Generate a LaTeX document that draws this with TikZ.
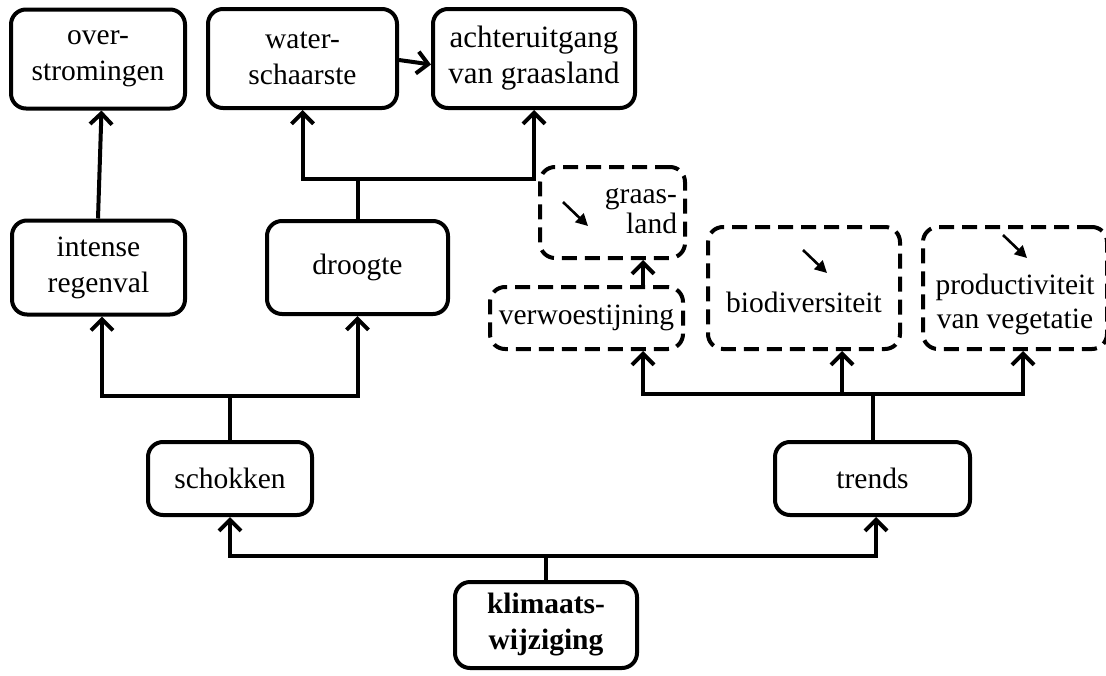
\documentclass[tikz,border=0pt]{standalone}
\usepackage{fontspec}
\setmainfont{Liberation Serif}
\usetikzlibrary{arrows.meta,calc}
\begin{document}
\begin{tikzpicture}[x=1pt,y=-1pt,
  box/.style={draw, line width=4pt, rounded corners=15pt, align=center,
    inner sep=0pt, font=\fontsize{29.5}{36}\selectfont},
  dbox/.style={box, dash pattern=on 15pt off 8pt},
  link/.style={line width=4pt},
  arr/.style={link, -{Straight Barb[length=11pt,width=22pt]}},
  trend/.style={line width=2.6pt, -{Triangle[length=12pt,width=12pt]}},
]
\useasboundingbox (0,0) rectangle (1106,675);

% solid boxes
\node[box, minimum width=174pt, minimum height=99pt] (over) at (98,59) {over-\\stromingen};
\node[box, minimum width=189pt, minimum height=99pt] (water) at (302.5,58.5) {water-\\schaarste};
\node[box, minimum width=202pt, minimum height=99pt, font=\fontsize{31}{36}\selectfont]
  (achter) at (534,58.5) {achteruitgang\\van graasland};
\node[box, minimum width=173pt, minimum height=94pt] (intense) at (98.5,267.5) {intense\\regenval};
\node[box, minimum width=181pt, minimum height=93pt] (droogte) at (357.5,267.5) {droogte};
\node[box, minimum width=164pt, minimum height=73pt] (schokken) at (230,478.5) {schokken};
\node[box, minimum width=195pt, minimum height=73pt] (trends) at (872.5,478.5) {trends};
\node[box, minimum width=182pt, minimum height=86pt] (klimaat) at (546,625) {\textbf{klimaats-}\\\textbf{wijziging}};

% dashed boxes
\node[dbox, minimum width=145pt, minimum height=91pt, text width=129pt, align=right,
  font=\fontsize{29.5}{30}\selectfont] (graas) at (612.5,212.5)
  {\raisebox{9.5pt}[0pt][0pt]{\begin{tabular}[t]{@{}r@{}}graas-\\land\end{tabular}}};
\node[dbox, minimum width=193pt, minimum height=62pt] (verw) at (586.5,318) {verwoestijning};
\node[dbox, minimum width=192pt, minimum height=122pt] (bio) at (804,288)
  {\raisebox{-24pt}[0pt][0pt]{biodiversiteit}};
\node[dbox, minimum width=184pt, minimum height=122pt, font=\fontsize{29.5}{34}\selectfont]
  (prod) at (1015,288)
  {\raisebox{-6pt}[0pt][0pt]{\begin{tabular}[t]{@{}c@{}}productiviteit\\van vegetatie\end{tabular}}};

% decline markers
\draw[trend] ($(graas.center)+(-49.5,-10.5)$) -- +(25,24);
\draw[trend] ($(bio.center)+(-1,-38)$) -- +(24,23);
\draw[trend] ($(prod.center)+(-12,-53)$) -- +(24,23);

% junctions
\coordinate (dj) at (357.5,179);
\coordinate (sj) at (230,396);
\coordinate (kj) at (546,556);
\coordinate (tj) at (872.5,394);

% connectors
\draw[arr] ([xshift=-0.5pt]intense.north) -- ([xshift=3.5pt]over.south);
\draw[arr] ([yshift=-1.5pt]water.east) -- ([yshift=-6pt]achter.west);

\draw[link] (droogte.north) -- (dj);
\draw[arr] (dj) -| (water.south);
\draw[arr] (dj) -| (achter.south);

\draw[link] (schokken.north) -- (sj);
\draw[arr] (sj) -| ([xshift=3.5pt]intense.south);
\draw[arr] (sj) -| (droogte.south);

\draw[link] (klimaat.north) -- (kj);
\draw[arr] (kj) -| (schokken.south);
\draw[arr] (kj) -| ([xshift=3.5pt]trends.south);

\draw[link] (trends.north) -- (tj);
\draw[arr] (tj) -| ([xshift=56.5pt]verw.south);
\draw[arr] (tj) -| ([xshift=38pt]bio.south);
\draw[arr] (tj) -| ([xshift=8pt]prod.south);

\draw[arr] ([xshift=56.5pt]verw.north) -- ([xshift=30.5pt]graas.south);
\end{tikzpicture}
\end{document}
